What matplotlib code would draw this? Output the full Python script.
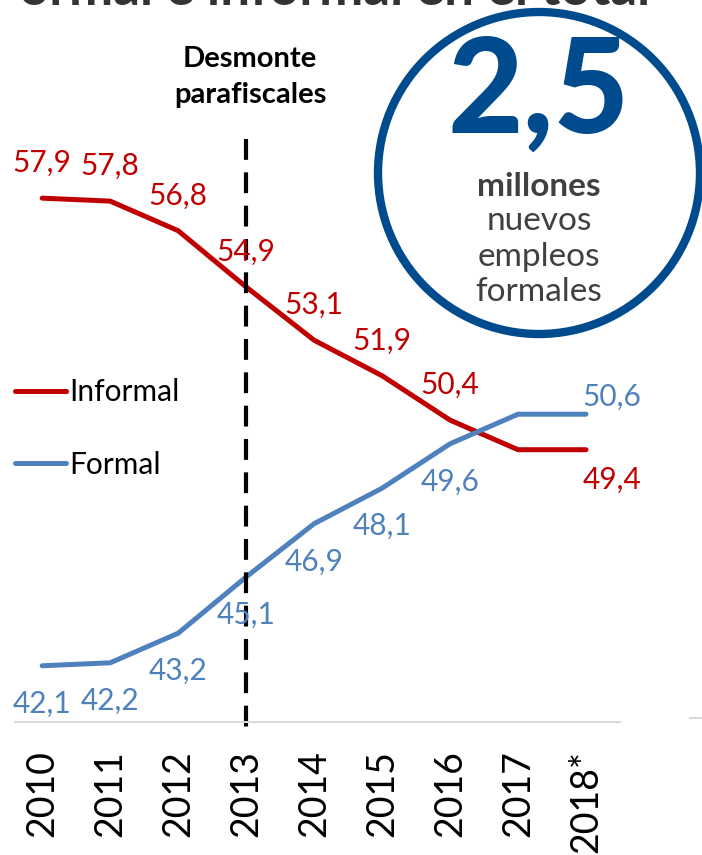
import matplotlib.pyplot as plt
from matplotlib.patches import Circle
from matplotlib.lines import Line2D

years = ["2010", "2011", "2012", "2013", "2014", "2015", "2016", "2017", "2018*"]
informal = [57.9, 57.8, 56.8, 54.9, 53.1, 51.9, 50.4, 49.4, 49.4]
formal = [42.1, 42.2, 43.2, 45.1, 46.9, 48.1, 49.6, 50.6, 50.6]
informal_labels = ["57,9", "57,8", "56,8", "54,9", "53,1", "51,9", "50,4", None, "49,4"]
formal_labels = ["42,1", "42,2", "43,2", "45,1", "46,9", "48,1", "49,6", None, "50,6"]

RED = "#C00000"
BLUE = "#4F81BD"
DARK_BLUE = "#004B8D"
GRAY_TXT = "#404040"
FONT = "Lato"


def main():
    W, H = 702, 855
    fig = plt.figure(figsize=(W / 100, H / 100), dpi=100)
    # axes en pixels : x 15..620, y 136..722
    ax = fig.add_axes([15 / W, 1 - 722 / H, 605 / W, (722 - 136) / H])
    x = list(range(len(years)))

    ax.plot(x, informal, color=RED, lw=3.6, solid_capstyle="round", label="Informal")
    ax.plot(x, formal, color=BLUE, lw=3.6, solid_capstyle="round", label="Formal")

    ax.set_xlim(-0.4, 8.5)
    ax.set_ylim(40.2, 60)

    # etiquettes de valeurs
    for i, (v, lab) in enumerate(zip(informal, informal_labels)):
        if lab is None:
            continue
        off = (0, 35) if i < 8 else (26, -30)
        ax.annotate(lab, (i, v), xytext=off, textcoords="offset pixels",
                    ha="center", va="center", color=RED, fontsize=21.5, family=FONT)
    for i, (v, lab) in enumerate(zip(formal, formal_labels)):
        if lab is None:
            continue
        off = (0, -38) if i < 8 else (26, 17)
        ax.annotate(lab, (i, v), xytext=off, textcoords="offset pixels",
                    ha="center", va="center", color=BLUE, fontsize=21.5, family=FONT)

    # ligne pointillee 2013
    ax.plot([3, 3], [59.9, 39.9], color="black", lw=3, ls=(0, (5, 3)), clip_on=False)
    fig.text(250 / W, 1 - 77 / H, "Desmonte\nparafiscales", ha="center", va="center",
             fontsize=21, fontweight="bold", family=FONT, linespacing=1.45, color="black")

    # axes
    for s in ["top", "right", "left"]:
        ax.spines[s].set_visible(False)
    ax.spines["bottom"].set_color("#D9D9D9")
    ax.spines["bottom"].set_linewidth(1.5)
    ax.set_yticks([])
    ax.set_xticks(x)
    ax.set_xticklabels(years, rotation=90, fontsize=27, family=FONT, color="black")
    ax.tick_params(axis="x", length=0, pad=20)

    # legende
    ax.legend(loc="upper left", bbox_to_anchor=(0 / 605, 1 - (378 - 136) / 586),
              frameon=False, prop={"family": FONT, "size": 21.5}, handlelength=1.7,
              handletextpad=0.1, labelspacing=1.5, borderaxespad=0, borderpad=0,
              labelcolor="black")

    fig.add_artist(Line2D([690 / W, 1], [1 - 718 / H] * 2, color="#D9D9D9", lw=1.5))

    # cercle
    circ = Circle((539, H - 173), 161, transform=None, fill=False, ec=DARK_BLUE, lw=6)
    fig.add_artist(circ)
    fig.text(539 / W, 1 - 95 / H, "2,5", ha="center", va="center", fontsize=94,
             fontweight="black", family=FONT, color=DARK_BLUE)
    fig.text(539 / W, 1 - 186 / H, "millones", ha="center", va="center", fontsize=24,
             fontweight="bold", family=FONT, color=GRAY_TXT)
    fig.text(539 / W, 1 - 221 / H, "nuevos", ha="center", va="center", fontsize=24,
             family=FONT, color=GRAY_TXT)
    fig.text(539 / W, 1 - 257 / H, "empleos", ha="center", va="center", fontsize=24,
             family=FONT, color=GRAY_TXT)
    fig.text(539 / W, 1 - 292 / H, "formales", ha="center", va="center", fontsize=24,
             family=FONT, color=GRAY_TXT)

    # titre coupe en haut
    fig.text(335 / W, 1 - 5 / H, "ormal e informal en el total", ha="center", va="baseline",
             fontsize=38, fontweight="bold", family=FONT, color="#333333")

    fig.savefig("out.png", dpi=100)
    return 0


if __name__ == '__main__':
    main()
